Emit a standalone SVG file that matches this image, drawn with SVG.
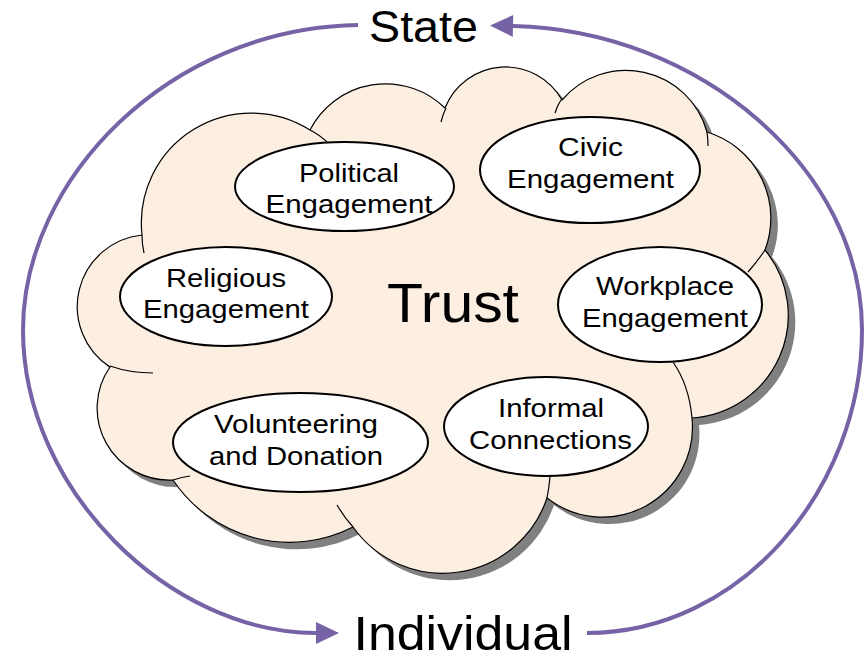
<svg xmlns="http://www.w3.org/2000/svg" width="864" height="656" viewBox="0 0 864 656">
  <style>
    .cloud { fill: #FDEEE2; stroke: #000; stroke-width: 1.2; }
    .shadow { fill: #808080; }
    .seam { fill: none; stroke: #000; stroke-width: 1.2; }
    .bubble { fill: #fff; stroke: #000; stroke-width: 2; }
    .lbl { font-family: "Liberation Sans", Arial, sans-serif; font-size: 26px; fill: #000; text-anchor: middle; }
    .big { font-family: "Liberation Sans", Arial, sans-serif; fill: #000; text-anchor: middle; }
    .flow { fill: none; stroke: #7563A6; stroke-width: 4; }
  </style>
  <defs>
    <marker id="head" markerUnits="userSpaceOnUse" markerWidth="24" markerHeight="22" refX="0" refY="11" orient="auto" overflow="visible">
      <path d="M0,0 L23,11 L0,22 Z" fill="#7563A6"/>
    </marker>
    <path id="cloudShape" d="M310,130 A85,85 0 0 1 445,108 A65,65 0 0 1 562,100 A84,84 0 0 1 707,132 A90,90 0 0 1 765,250 A103,103 0 0 1 692,418 A90,90 0 0 1 547,498 A110,110 0 0 1 353,527 A140,140 0 0 1 173,480 A72,72 0 0 1 110,367 A72,72 0 0 1 142,235 A110,110 0 0 1 310,130 Z"/>
  </defs>

  <!-- central cloud -->
  <g id="trust">
    <use href="#cloudShape" class="shadow" transform="translate(7,7)"/>
    <use href="#cloudShape" class="cloud"/>
    <g class="seam">
      <path d="M310,130 Q320,135 328,143"/>
      <path d="M441,122 Q443,114 446,108"/>
      <path d="M555,113 Q557,106 561,100"/>
      <path d="M707,132 Q708,139 708,146"/>
      <path d="M748,272 Q757,262 765,250"/>
      <path d="M673,362 Q689,385 692,418"/>
      <path d="M550,477 Q549,488 547,498"/>
      <path d="M337,505 Q344,517 353,527"/>
      <path d="M173,480 Q182,477 190,476"/>
      <path d="M110,366 Q130,373 153,373"/>
      <path d="M142,235 Q142,244 144,253"/>
    </g>
    <text class="big" x="453" y="322" font-size="55" textLength="132" lengthAdjust="spacingAndGlyphs">Trust</text>
  </g>

  <g id="political">
    <ellipse class="bubble" cx="344.5" cy="186.5" rx="109.5" ry="44.5"/>
    <text class="lbl" x="349" y="182" textLength="100" lengthAdjust="spacingAndGlyphs">Political</text>
    <text class="lbl" x="349" y="213" textLength="167" lengthAdjust="spacingAndGlyphs">Engagement</text>
  </g>

  <g id="civic">
    <ellipse class="bubble" cx="590" cy="170" rx="110" ry="53"/>
    <text class="lbl" x="590.5" y="156" textLength="65" lengthAdjust="spacingAndGlyphs">Civic</text>
    <text class="lbl" x="590.5" y="188" textLength="167" lengthAdjust="spacingAndGlyphs">Engagement</text>
  </g>

  <g id="religious">
    <ellipse class="bubble" cx="226" cy="296.5" rx="106" ry="49.5"/>
    <text class="lbl" x="226" y="287" textLength="120" lengthAdjust="spacingAndGlyphs">Religious</text>
    <text class="lbl" x="226" y="318" textLength="166" lengthAdjust="spacingAndGlyphs">Engagement</text>
  </g>

  <g id="workplace">
    <ellipse class="bubble" cx="660" cy="304.5" rx="102" ry="57.5"/>
    <text class="lbl" x="665" y="295" textLength="138" lengthAdjust="spacingAndGlyphs">Workplace</text>
    <text class="lbl" x="665" y="327" textLength="166" lengthAdjust="spacingAndGlyphs">Engagement</text>
  </g>

  <g id="informal">
    <ellipse class="bubble" cx="546" cy="426.5" rx="102" ry="49.5"/>
    <text class="lbl" x="551" y="417" textLength="106" lengthAdjust="spacingAndGlyphs">Informal</text>
    <text class="lbl" x="550.5" y="449" textLength="163" lengthAdjust="spacingAndGlyphs">Connections</text>
  </g>

  <g id="volunteering">
    <ellipse class="bubble" cx="300.5" cy="442.5" rx="127.5" ry="49.5"/>
    <text class="lbl" x="296" y="433" textLength="164" lengthAdjust="spacingAndGlyphs">Volunteering</text>
    <text class="lbl" x="296" y="465" textLength="174" lengthAdjust="spacingAndGlyphs">and Donation</text>
  </g>

  <g id="state">
    <text class="big" x="423.5" y="42" font-size="44" textLength="109" lengthAdjust="spacingAndGlyphs">State</text>
  </g>

  <g id="individual">
    <text class="big" x="463" y="650" font-size="49" textLength="219" lengthAdjust="spacingAndGlyphs">Individual</text>
  </g>

  <!-- state/individual feedback loop -->
  <g id="connectors">
    <path class="flow" d="M358,25 C168,28 23,180 23,330 C23,490 170,633 316,633" marker-end="url(#head)"/>
    <path class="flow" d="M587,633 C740,633 862,490 862,330 C862,170 700,30 513,26" marker-end="url(#head)"/>
  </g>
</svg>
